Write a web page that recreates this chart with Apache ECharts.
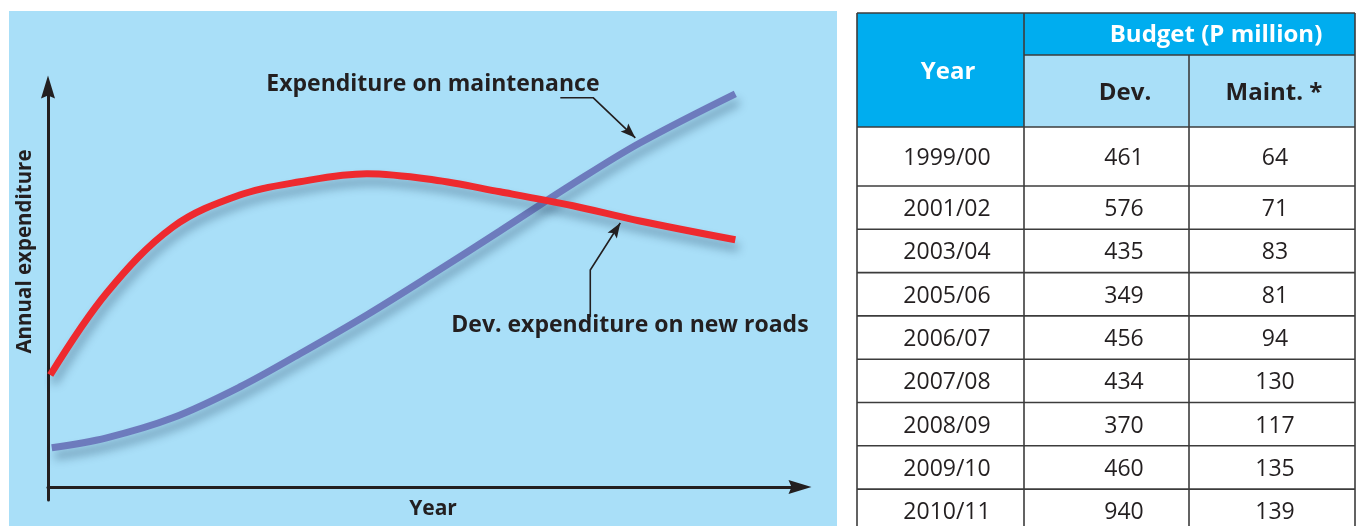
<!DOCTYPE html>
<html>
<head>
<meta charset="utf-8">
<script src="https://cdn.jsdelivr.net/npm/echarts@6/dist/echarts.min.js"></script>
<style>
html,body{margin:0;padding:0;background:#fff;}
#main{width:1364px;height:526px;}
</style>
</head>
<body>
<div id="main"></div>
<script>
// ---- Curve data (abstract scale 0..100) ----
const devX   = [0.3, 7.8, 16.6, 25.5, 33.5, 42.4, 51.2, 60.1, 69.8, 78.7, 91.4];
const devY   = [28.0, 48.5, 65.0, 73.0, 76.3, 78.3, 76.8, 73.8, 70.3, 66.5, 61.8];
const maintX = [0.5, 7.8, 16.6, 25.5, 33.5, 42.4, 51.2, 60.1, 69.8, 78.7, 91.4];
const maintY = [9.8, 12.3, 17.3, 25.0, 33.3, 43.0, 53.3, 64.0, 75.8, 86.0, 98.3];

// ---- Table data ----
const years       = ['1999/00','2001/02','2003/04','2005/06','2006/07','2007/08','2008/09','2009/10','2010/11'];
const devBudget   = [461, 576, 435, 349, 456, 434, 370, 460, 940];
const maintBudget = [64, 71, 83, 81, 94, 130, 117, 135, 139];
const headYear = 'Year';
const headBudget = 'Budget (P million)';
const headDev = 'Dev.';
const headMaint = 'Maint. *';

// ---- Annotation labels & arrow tips (tips in data coordinates) ----
const labelMaint = 'Expenditure on maintenance';
const labelDev = 'Dev. expenditure on new roads';
const tipMaint = [78.1, 87.3];
const tipDev = [76.1, 66.0];

const INK = '#231f20';
const FONT = '"Open Sans", "Noto Sans", sans-serif';
const arrowPath = 'path://M7,0L14,23L7,20L0,23Z';

const chart = echarts.init(document.getElementById('main'));

function pairs(xs, ys){ return xs.map((x,i)=>[x, ys[i]]); }

const shadow = {shadowColor:'rgba(20,50,80,0.38)', shadowBlur:10, shadowOffsetX:3, shadowOffsetY:8};

chart.setOption({
  backgroundColor:'#ffffff',
  animation:false,
  grid:{left:48, width:752, top:87, bottom:26, containLabel:false, outerBoundsMode:'none'},
  xAxis:{
    type:'value', min:0, max:100, interval:10,
    name:'Year', nameLocation:'middle', nameGap:-1,
    nameTextStyle:{fontFamily:FONT, fontWeight:'bold', fontSize:21, color:INK, padding:[0,0,0,18]},
    axisLine:{show:true, onZero:true, symbol:['none', arrowPath], symbolSize:[14,23], lineStyle:{color:INK, width:3}},
    axisTick:{show:false}, axisLabel:{show:false}, splitLine:{show:false}
  },
  yAxis:{
    type:'value', min:-3.25, max:100, interval:0.25,
    name:'Annual expenditure', nameLocation:'middle', nameGap:12, nameRotate:90,
    nameTextStyle:{fontFamily:FONT, fontWeight:'bold', fontSize:20.5, color:INK, padding:[0,0,0,84]},
    axisLine:{show:true, onZero:true, symbol:['none', arrowPath], symbolSize:[14,23], lineStyle:{color:INK, width:3}},
    axisTick:{show:false}, axisLabel:{show:false}, splitLine:{show:false}
  },
  series:[
    {name:'Expenditure on maintenance', type:'line', data:pairs(maintX, maintY), smooth:0.35, showSymbol:false,
     lineStyle:Object.assign({color:'#6d7bbd', width:7, cap:'butt'}, shadow), z:3},
    {name:'Dev. expenditure on new roads', type:'line', data:pairs(devX, devY), smooth:0.35, showSymbol:false,
     lineStyle:Object.assign({color:'#ee2a2f', width:7, cap:'butt'}, shadow), z:4}
  ]
});

// ---- graphics: background panel, annotations, table ----
const g = [];
g.push({type:'rect', z:-10, silent:true, shape:{x:9, y:11, width:828, height:516}, style:{fill:'#a9dff8'}});

function arrowHead(tip, from, len, hw){
  const dx = tip[0]-from[0], dy = tip[1]-from[1];
  const d = Math.sqrt(dx*dx+dy*dy); const ux = dx/d, uy = dy/d;
  const bx = tip[0]-ux*len, by = tip[1]-uy*len;
  return [[tip[0],tip[1]],[bx-uy*hw, by+ux*hw],[tip[0]-ux*(len-3), tip[1]-uy*(len-3)],[bx+uy*hw, by-ux*hw]];
}

const t1 = chart.convertToPixel({gridIndex:0}, tipMaint);
const e1 = [t1[0]-42, t1[1]-40];
const s1 = [e1[0]-33, e1[1]];
g.push({type:'polyline', z:5, shape:{points:[s1, e1, t1]}, style:{stroke:INK, lineWidth:1.6, fill:null}});
g.push({type:'polygon', z:5, shape:{points:arrowHead(t1, e1, 15, 5.5)}, style:{fill:INK}});
g.push({type:'text', z:5, x:s1[0]-294, y:s1[1]-13, style:{text:labelMaint, font:'bold 23px '+FONT, fill:INK, align:'left', verticalAlign:'middle'}});

const t2 = chart.convertToPixel({gridIndex:0}, tipDev);
const e2 = [t2[0]-30, t2[1]+47];
const s2 = [e2[0], e2[1]+47];
g.push({type:'polyline', z:5, shape:{points:[s2, e2, t2]}, style:{stroke:INK, lineWidth:1.6, fill:null}});
g.push({type:'polygon', z:5, shape:{points:arrowHead(t2, e2, 15, 5.5)}, style:{fill:INK}});
g.push({type:'text', z:5, x:s2[0]-139, y:s2[1]+8, style:{text:labelDev, font:'bold 23px '+FONT, fill:INK, align:'left', verticalAlign:'middle'}});

// table layout
const colX = [857, 1024, 1189, 1355];
const textX = [947, 1124, 1275];
const headTop = 13, headMid = 55, headBot = 127;
const rowEdges = [headBot];
for (let i=0;i<years.length;i++){ rowEdges.push(i===0 ? headBot+59 : rowEdges[i]+43.3); }
const DARK = '#00adef', LIGHT = '#a9dff8', LINE = '#3c3c3c';

g.push({type:'rect', z:1, shape:{x:colX[0], y:headTop, width:colX[1]-colX[0], height:headBot-headTop}, style:{fill:DARK}});
g.push({type:'rect', z:1, shape:{x:colX[1], y:headTop, width:colX[3]-colX[1], height:headMid-headTop}, style:{fill:DARK}});
g.push({type:'rect', z:1, shape:{x:colX[1], y:headMid, width:colX[3]-colX[1], height:headBot-headMid}, style:{fill:LIGHT}});

const bottom = rowEdges[rowEdges.length-1];
function hline(y, x0, x1){ g.push({type:'line', z:3, shape:{x1:x0, y1:y, x2:x1, y2:y}, style:{stroke:LINE, lineWidth:1.6}}); }
function vline(x, y0, y1){ g.push({type:'line', z:3, shape:{x1:x, y1:y0, x2:x, y2:y1}, style:{stroke:LINE, lineWidth:1.6}}); }
hline(headTop, colX[0], colX[3]);
hline(headMid, colX[1], colX[3]);
rowEdges.forEach(y=>hline(y, colX[0], colX[3]));
vline(colX[0], headTop, bottom); vline(colX[1], headTop, bottom); vline(colX[3], headTop, bottom);
vline(colX[2], headMid, bottom);

function txt(s, x, y, font, color){ g.push({type:'text', z:4, x:x, y:y, style:{text:String(s), font:font, fill:color, align:'center', verticalAlign:'middle'}}); }
txt(headYear, 948, 72, 'bold 24px '+FONT, '#ffffff');
txt(headBudget, 1216, 35, 'bold 24px '+FONT, '#ffffff');
txt(headDev, 1125, 93, 'bold 24px '+FONT, INK);
txt(headMaint, 1274, 93, 'bold 24px '+FONT, INK);
years.forEach((yr, i)=>{
  const cy = (rowEdges[i]+rowEdges[i+1])/2 + 2;
  txt(yr, textX[0], cy, '23px '+FONT, INK);
  txt(devBudget[i], textX[1], cy, '23px '+FONT, INK);
  txt(maintBudget[i], textX[2], cy, '23px '+FONT, INK);
});

chart.setOption({graphic:{elements:g}});
</script>
</body>
</html>
